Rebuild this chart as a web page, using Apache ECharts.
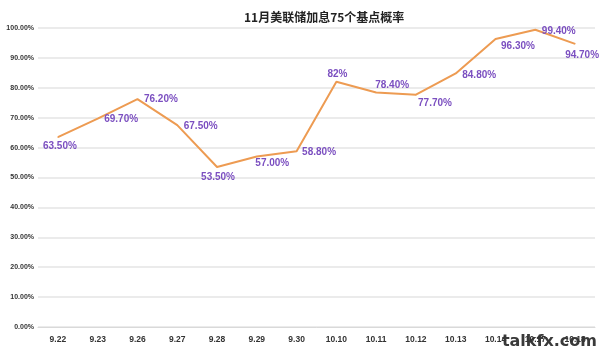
<!DOCTYPE html>
<html>
<head>
<meta charset="utf-8">
<script src="https://cdn.jsdelivr.net/npm/echarts@6/dist/echarts.min.js"></script>
<style>
  html, body { margin: 0; padding: 0; background: #fff; }
  #chart { width: 602px; height: 351px; }
</style>
</head>
<body>
<div id="chart"></div>
<script>
// 日期
const dates = ['9.22', '9.23', '9.26', '9.27', '9.28', '9.29', '9.30', '10.10', '10.11', '10.12', '10.13', '10.14', '10.17', '10.18']
// 加息75个基点概率 (%)
const probs = [63.5, 69.7, 76.2, 67.5, 53.5, 57.0, 58.8, 82, 78.4, 77.7, 84.8, 96.3, 99.4, 94.7]
const labelTexts = ['63.50%', '69.70%', '76.20%', '67.50%', '53.50%', '57.00%', '58.80%', '82%', '78.40%', '77.70%', '84.80%', '96.30%', '99.40%', '94.70%']

// 标签位置
const labelPlace = [
  { position: 'bottom', offset: [2, 0] },
  { position: 'right', offset: [2, 1] },
  { position: 'right', offset: [2, 0] },
  { position: 'right', offset: [2, 1] },
  { position: 'bottom', offset: [1, 1] },
  { position: 'right', offset: [-6, 7] },
  { position: 'right', offset: [1, 1] },
  { position: 'top', offset: [1, 2] },
  { position: 'top', offset: [16, 2] },
  { position: 'bottom', offset: [19, -1] },
  { position: 'right', offset: [2, 2] },
  { position: 'right', offset: [1, 7] },
  { position: 'right', offset: [2, 1] },
  { position: 'bottom', offset: [7, 2] }
]

const chart = echarts.init(document.getElementById('chart'))

const option = {
  animation: false,
  title: {
    text: '11月美联储加息75个基点概率',
    left: 239,
    top: 6,
    textStyle: { fontSize: 12, fontWeight: 'bold', color: '#222', fontFamily: 'Noto Sans CJK SC' }
  },
  grid: { left: 38, right: 7, top: 28, bottom: 24 },
  xAxis: {
    type: 'category',
    data: dates,
    axisLine: { lineStyle: { color: '#d9d9d9', width: 1 } },
    axisTick: { show: false },
    axisLabel: { color: '#333', fontSize: 8.5, fontWeight: 'bold', margin: 8, fontFamily: 'Liberation Sans' }
  },
  yAxis: {
    type: 'value',
    min: 0,
    max: 100,
    interval: 10,
    axisLine: { show: false },
    axisTick: { show: false },
    axisLabel: {
      color: '#333', fontSize: 7, fontWeight: 'bold', margin: 4, fontFamily: 'Liberation Sans',
      formatter: v => v.toFixed(2) + '%'
    },
    splitLine: { lineStyle: { color: '#e4e4e4', width: 1.5 } }
  },
  series: [
    {
      type: 'line',
      data: probs.map((v, i) => ({
        value: v,
        label: {
          position: labelPlace[i].position,
          offset: labelPlace[i].offset,
          formatter: () => labelTexts[i]
        }
      })),
      symbol: 'circle',
      symbolSize: 1,
      showSymbol: true,
      itemStyle: { color: '#ED9B52' },
      lineStyle: { color: '#ED9B52', width: 2 },
      label: {
        show: true,
        color: '#7B4FC0',
        fontSize: 10,
        fontWeight: 'bold',
        fontFamily: 'Liberation Sans',
        distance: 4
      }
    }
  ],
  graphic: [
    {
      type: 'text',
      right: 5,
      bottom: 1,
      style: { text: 'talkfx.com', fontSize: 16, fontWeight: 'bold', fill: '#3a3a3a', fontFamily: 'DejaVu Sans' }
    }
  ]
}

chart.setOption(option)
</script>
</body>
</html>
